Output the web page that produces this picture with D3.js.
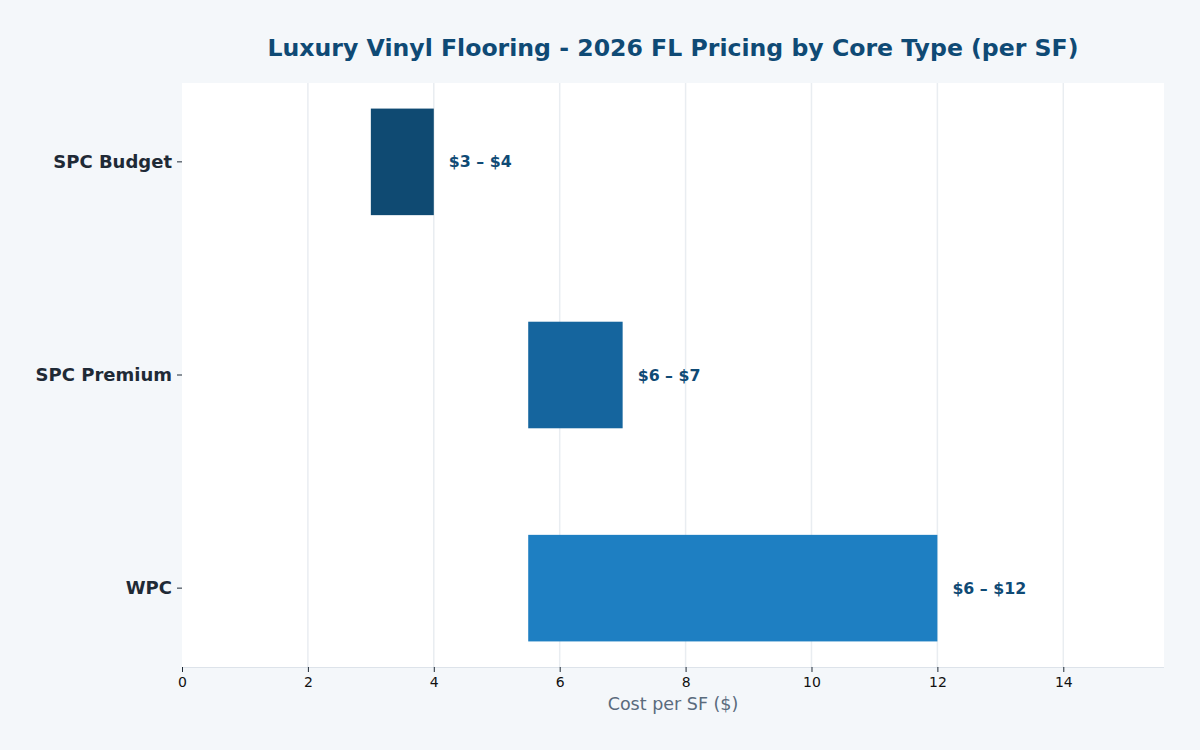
<!DOCTYPE html>
<html><head><meta charset="utf-8">
<script src="https://cdn.jsdelivr.net/npm/d3@7"></script>
<style>
html,body{margin:0;padding:0;background:#f4f7fa;}
svg{display:block;font-family:"DejaVu Sans",sans-serif;}
</style></head>
<body><svg id="chart" width="1200" height="750"></svg>
<script>
const categories = ["SPC Budget", "SPC Premium", "WPC"];
const lowValues = [3, 5.5, 5.5];
const highValues = [4, 7, 12];
const barLabels = ["$3 – $4", "$6 – $7", "$6 – $12"];
const barColors = ["#0f4a72", "#15659e", "#1e7fc2"];
const xTicks = [0, 2, 4, 6, 8, 10, 12, 14];
const xMax = 15.6;

const svg = d3.select("#chart");
const W = 1200, H = 750;
const m = {left: 182, right: 36, top: 83, bottom: 83};
const x = d3.scaleLinear().domain([0, xMax]).range([m.left, W - m.right]);
const y = d3.scaleLinear().domain([-0.37, 2.37]).range([m.top, H - m.bottom]);
const barH = 0.5 * (y(1) - y(0));

svg.append("rect").attr("width", W).attr("height", H).attr("fill", "#f4f7fa");
svg.append("rect").attr("x", m.left).attr("y", m.top)
  .attr("width", x(xMax) - m.left).attr("height", (H - m.bottom) - m.top).attr("fill", "#ffffff");

// grid
svg.append("g").selectAll("line").data(xTicks.filter(d => d > 0)).join("line")
  .attr("x1", d => x(d)).attr("x2", d => x(d))
  .attr("y1", m.top).attr("y2", H - m.bottom)
  .attr("stroke", "#e9edf1").attr("stroke-width", 1.5);

// bottom spine
svg.append("line").attr("x1", m.left).attr("x2", x(xMax))
  .attr("y1", H - m.bottom + 0.5).attr("y2", H - m.bottom + 0.5)
  .attr("stroke", "#dde3ea").attr("stroke-width", 1);

// bars
svg.append("g").selectAll("rect").data(categories).join("rect")
  .attr("x", (d, i) => x(lowValues[i]))
  .attr("width", (d, i) => x(highValues[i]) - x(lowValues[i]))
  .attr("y", (d, i) => y(i) - barH / 2)
  .attr("height", barH)
  .attr("fill", (d, i) => barColors[i]);

// bar labels
svg.append("g").selectAll("text").data(barLabels).join("text")
  .attr("x", (d, i) => x(highValues[i]) + 15)
  .attr("y", (d, i) => y(i))
  .attr("dy", "0.35em")
  .attr("font-size", 15.8).attr("font-weight", "bold").attr("fill", "#0f4a75")
  .text(d => d);

// x axis
const xAxis = d3.axisBottom(x).tickValues(xTicks).tickSize(5).tickPadding(5).tickFormat(d3.format("d"));
const gx = svg.append("g").attr("transform", `translate(0,${H - m.bottom})`).call(xAxis);
gx.select(".domain").remove();
gx.selectAll(".tick line").attr("stroke", "#1f2a36");
gx.selectAll(".tick text").attr("font-size", 14).attr("fill", "#111").attr("font-family", "DejaVu Sans");

// y axis
const gy = svg.append("g");
categories.forEach((c, i) => {
  gy.append("line").attr("x1", m.left - 5).attr("x2", m.left)
    .attr("y1", y(i)).attr("y2", y(i)).attr("stroke", "#1f2a36");
  gy.append("text").attr("x", m.left - 10).attr("y", y(i)).attr("dy", "0.35em")
    .attr("text-anchor", "end").attr("font-size", 18).attr("font-weight", "bold")
    .attr("fill", "#1f2a36").text(c);
});

// x axis title
svg.append("text").attr("x", (m.left + x(xMax)) / 2).attr("y", 710)
  .attr("text-anchor", "middle").attr("font-size", 17.5).attr("fill", "#5a6b7d")
  .text("Cost per SF ($)");

// title
svg.append("text").attr("x", (m.left + x(xMax)) / 2).attr("y", 56)
  .attr("text-anchor", "middle").attr("font-size", 23.6).attr("font-weight", "bold")
  .attr("fill", "#0f4a75")
  .text("Luxury Vinyl Flooring - 2026 FL Pricing by Core Type (per SF)");
</script></body></html>
